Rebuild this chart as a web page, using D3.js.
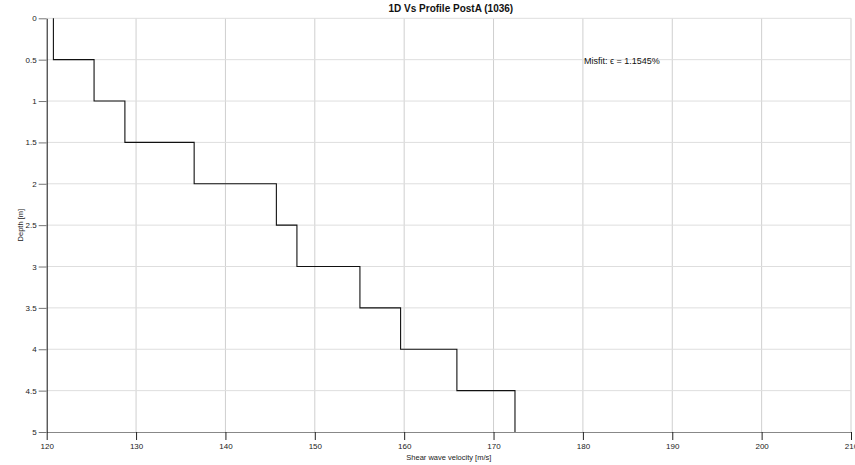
<!DOCTYPE html>
<html>
<head>
<meta charset="utf-8">
<script src="https://cdn.jsdelivr.net/npm/d3@7"></script>
<style>
  html, body { margin: 0; padding: 0; background: #fff; }
  svg { display: block; font-family: "Liberation Sans", Arial, sans-serif; }
</style>
</head>
<body>
<svg id="chart" width="855" height="465"></svg>
<script>
// Layer boundaries (depth, m) and shear-wave velocity of each layer (m/s)
const layerTop    = [0, 0.5, 1, 1.5, 2, 2.5, 3, 3.5, 4, 4.5];
const layerBottom = [0.5, 1, 1.5, 2, 2.5, 3, 3.5, 4, 4.5, 5];
const velocity    = [120.75, 125.3, 128.75, 136.5, 145.7, 148.0, 155.05, 159.6, 165.9, 172.4];

const xTicks = [120, 130, 140, 150, 160, 170, 180, 190, 200, 210];
const yTicks = [0, 0.5, 1, 1.5, 2, 2.5, 3, 3.5, 4, 4.5, 5];

const titleText = "1D Vs Profile PostA (1036)";
const misfitText = "Misfit: \u03F5 = 1.1545%";

const svg = d3.select("#chart");
const plot = { left: 46.7, right: 851, top: 18.3, bottom: 432 };

const x = d3.scaleLinear().domain([120, 210]).range([plot.left, plot.right]);
const y = d3.scaleLinear().domain([0, 5]).range([plot.top, plot.bottom]);

// grid
const grid = svg.append("g");
grid.selectAll("line.vg").data(xTicks.slice(1)).join("line")
  .attr("x1", d => x(d)).attr("x2", d => x(d))
  .attr("y1", plot.top).attr("y2", plot.bottom)
  .attr("stroke", "#cfcfcf").attr("stroke-width", 1);
grid.selectAll("line.hg").data(yTicks.slice(0, -1)).join("line")
  .attr("x1", plot.left).attr("x2", plot.right)
  .attr("y1", d => y(d)).attr("y2", d => y(d))
  .attr("stroke", "#dedede").attr("stroke-width", 1);

// x axis
const xAxis = svg.append("g")
  .attr("transform", `translate(0,${plot.bottom})`)
  .call(d3.axisBottom(x).tickValues(xTicks).tickSize(8).tickPadding(3).tickSizeOuter(0));
xAxis.select(".domain").attr("stroke", "#888");
xAxis.selectAll(".tick line").attr("stroke", "#222");
xAxis.selectAll(".tick text").attr("font-size", 8).attr("fill", "#222")
  .attr("font-family", "Liberation Sans, Arial, sans-serif");

// y axis
const yAxis = svg.append("g")
  .attr("transform", `translate(${plot.left},0)`)
  .call(d3.axisLeft(y).tickValues(yTicks).tickSize(8).tickPadding(2).tickSizeOuter(0)
    .tickFormat(d3.format("~g")));
yAxis.select(".domain").attr("stroke", "#111");
yAxis.selectAll(".tick line").attr("stroke", "#777");
yAxis.selectAll(".tick text").attr("font-size", 8).attr("fill", "#222")
  .attr("font-family", "Liberation Sans, Arial, sans-serif");

// velocity profile as a step line
const pts = [];
velocity.forEach((v, i) => {
  pts.push([v, layerTop[i]]);
  pts.push([v, layerBottom[i]]);
});
svg.append("path")
  .datum(pts)
  .attr("fill", "none")
  .attr("stroke", "#111")
  .attr("stroke-width", 1.1)
  .attr("d", d3.line().x(d => x(d[0])).y(d => y(d[1])));

// texts
svg.append("text")
  .attr("x", (plot.left + plot.right) / 2 + 2).attr("y", 12)
  .attr("text-anchor", "middle")
  .attr("font-size", 10).attr("font-weight", "bold").attr("fill", "#111")
  .text(titleText);

svg.append("text")
  .attr("x", (plot.left + plot.right) / 2).attr("y", 460)
  .attr("text-anchor", "middle")
  .attr("font-size", 7.5).attr("fill", "#222")
  .text("Shear wave velocity [m/s]");

svg.append("text")
  .attr("transform", `translate(23,${(plot.top + plot.bottom) / 2}) rotate(-90)`)
  .attr("text-anchor", "middle")
  .attr("font-size", 7.5).attr("fill", "#222")
  .text("Depth [m]");

svg.append("text")
  .attr("x", 584).attr("y", 64)
  .attr("font-size", 9).attr("fill", "#111")
  .text(misfitText);
</script>
</body>
</html>
